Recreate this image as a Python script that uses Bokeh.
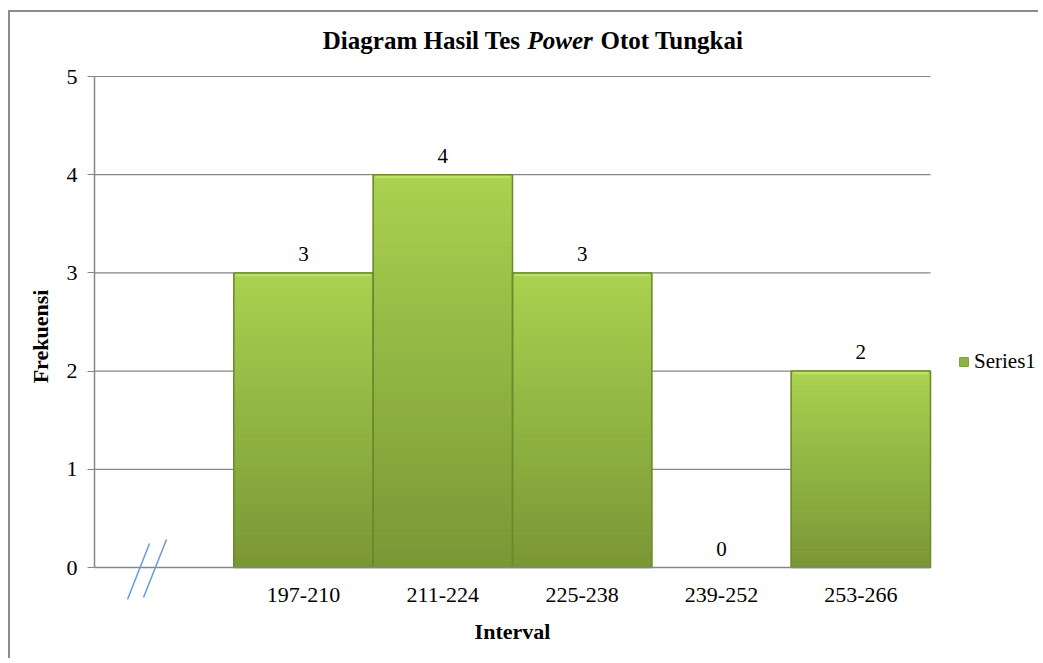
from bokeh.plotting import figure
from bokeh.models import (ColumnDataSource, Range1d, LabelSet, Label,
                          Legend, LegendItem, Arrow, FixedTicker)
from bokeh.embed import file_html
from bokeh.resources import INLINE

# ---- data ----
intervals = ["197-210", "211-224", "225-238", "239-252", "253-266"]
freq = [3, 4, 3, 0, 2]
y_ticks = [0, 1, 2, 3, 4, 5]
series_name = "Series1"
title_parts = ["Diagram Hasil Tes", "Power", "Otot Tungkai"]
x_title = "Interval"
y_title = "Frekuensi"

SERIF = "Liberation Serif"
# category slots: slot 0 is the empty (axis-break) slot, then one slot per interval
n_slots = len(intervals) + 1
centers = [i + 1.5 for i in range(len(intervals))]

# ---- layout constants (pixels) ----
W, H = 1030, 648
FRAME_LEFT = 84
SLOT_PX = 836 / n_slots
Y0_PX, Y5_PX = 555, 64          # canvas y of value 0 and value 5
ppu = (Y0_PX - Y5_PX) / 5.0
y_start = -(H - Y0_PX) / ppu
y_end = 5 + Y5_PX / ppu
x_end = (W - FRAME_LEFT) / SLOT_PX

p = figure(x_range=Range1d(0, x_end), y_range=Range1d(y_start, y_end),
           width=W, height=H, output_backend="svg", toolbar_location=None,
           min_border_left=FRAME_LEFT, min_border_right=0,
           min_border_top=0, min_border_bottom=0)
p.margin = (10, 0, 0, 8)
p.styles = {"border-left": "2px solid #8c8c8c", "border-top": "2px solid #8c8c8c"}
p.title.visible = False
p.outline_line_color = None
p.background_fill_color = "white"
p.border_fill_color = "white"
p.xgrid.visible = False
p.ygrid.visible = False

# ---- horizontal gridlines over the category area ----
p.segment(x0=[0] * len(y_ticks), x1=[n_slots] * len(y_ticks), y0=y_ticks, y1=y_ticks,
          line_color="#868686", line_width=1.2)

# ---- gradient bars (bands derived from values) ----
N = 60
top_c = (0xAA, 0xD1, 0x50)
bot_c = (0x7A, 0x97, 0x35)
bx, bb, bt, bc = [], [], [], []
for cx, v in zip(centers, freq):
    if v <= 0:
        continue
    for k in range(N):
        f = (k + 0.5) / N  # 0 bottom -> 1 top
        c = tuple(int(round(bot_c[i] + (top_c[i] - bot_c[i]) * f)) for i in range(3))
        bx.append(cx)
        bb.append(v * k / N)
        bt.append(v * (k + 1) / N)
        bc.append("#%02x%02x%02x" % c)
band_src = ColumnDataSource(dict(x=bx, bottom=bb, top=bt, color=bc))
p.vbar(x="x", bottom="bottom", top="top", width=1.0, source=band_src,
       fill_color="color", line_color="color", line_width=1.0)

pos = [(c, v) for c, v in zip(centers, freq) if v > 0]
# light bevel highlight along each bar top
hl_src = ColumnDataSource(dict(x=[c for c, _ in pos], top=[v for _, v in pos],
                               bottom=[v - 0.035 for _, v in pos]))
p.vbar(x="x", top="top", bottom="bottom", width=0.97, source=hl_src,
       fill_color="#bde065", line_color=None)
out_src = ColumnDataSource(dict(x=[c for c, _ in pos], top=[v for _, v in pos]))
p.vbar(x="x", top="top", width=1.0, source=out_src, fill_color=None,
       line_color="#6a8a2c", line_width=1.5)

# legend renderer (swatch only, zero height)
leg_r = p.vbar(x=[centers[0]], top=[0], width=1.0, fill_color="#8fb443",
               line_color="#7a9a36")

# ---- data labels ----
lab_src = ColumnDataSource(dict(x=centers, y=freq, t=[str(v) for v in freq]))
p.add_layout(LabelSet(x="x", y="y", text="t", source=lab_src, text_align="center",
                      text_baseline="bottom", y_offset=12, text_font=SERIF,
                      text_font_size="21px", text_color="#000000"))

# ---- axes ----
p.yaxis.ticker = FixedTicker(ticks=y_ticks)
p.yaxis.bounds = (0, 5)
p.yaxis.minor_tick_line_color = None
p.yaxis.major_tick_out = 7
p.yaxis.major_tick_in = 0
p.yaxis.major_tick_line_color = "#868686"
p.yaxis.axis_line_color = "#868686"
p.yaxis.major_label_standoff = 10
p.yaxis.axis_label = y_title
p.yaxis.axis_label_standoff = 11

p.xaxis.fixed_location = 0
p.xaxis.bounds = (0, n_slots)
p.xaxis.ticker = FixedTicker(ticks=centers)
p.xaxis.major_label_overrides = {c: lab for c, lab in zip(centers, intervals)}
p.xaxis.minor_tick_line_color = None
p.xaxis.axis_label = x_title
p.xaxis.major_tick_line_color = None
p.xaxis.major_tick_out = 0
p.xaxis.major_tick_in = 0
p.xaxis.axis_line_color = "#868686"
p.xaxis.major_label_standoff = 20
p.xaxis.axis_label_standoff = 14
for ax in (p.xaxis[0], p.yaxis[0]):
    ax.major_label_text_font = SERIF
    ax.major_label_text_font_size = "22px"
    ax.major_label_text_color = "#000000"
    ax.axis_label_text_font = SERIF
    ax.axis_label_text_font_size = "22px"
    ax.axis_label_text_font_style = "bold"
    ax.axis_label_text_color = "#000000"
    ax.axis_line_width = 1.5

# ---- title (mixed italic), frame-relative screen units ----
ty = H - 28
TF = "25px"
p.add_layout(Label(x=426, y=ty, x_units="screen", y_units="screen", text=title_parts[0],
                   text_align="right", text_baseline="middle", text_font=SERIF,
                   text_font_size=TF, text_font_style="bold", text_color="#000000"))
p.add_layout(Label(x=433, y=ty, x_units="screen", y_units="screen", text=title_parts[1],
                   text_align="left", text_baseline="middle", text_font=SERIF,
                   text_font_size=TF, text_font_style="bold italic", text_color="#000000"))
p.add_layout(Label(x=506, y=ty, x_units="screen", y_units="screen", text=title_parts[2],
                   text_align="left", text_baseline="middle", text_font=SERIF,
                   text_font_size=TF, text_font_style="bold", text_color="#000000"))

# ---- axis break marks ----
for (x0, y0, x1, y1) in [(33, 61, 55, 117), (49, 63, 72, 121)]:
    p.add_layout(Arrow(end=None, start=None, x_start=x0, y_start=y0, x_end=x1, y_end=y1,
                       start_units="screen", end_units="screen",
                       line_color="#6a9ad6", line_width=1.5))

# ---- legend (inside the wide frame, right of the plot area) ----
legend = Legend(items=[LegendItem(label=series_name, renderers=[leg_r])],
                location=(864, 286), padding=0, margin=0, spacing=0,
                glyph_width=11, glyph_height=11, label_standoff=5,
                label_text_font=SERIF, label_text_font_size="21px",
                label_text_color="#000000", border_line_color=None,
                background_fill_alpha=0)
p.add_layout(legend, "center")

open("out.html", "w").write(file_html(p, INLINE))
